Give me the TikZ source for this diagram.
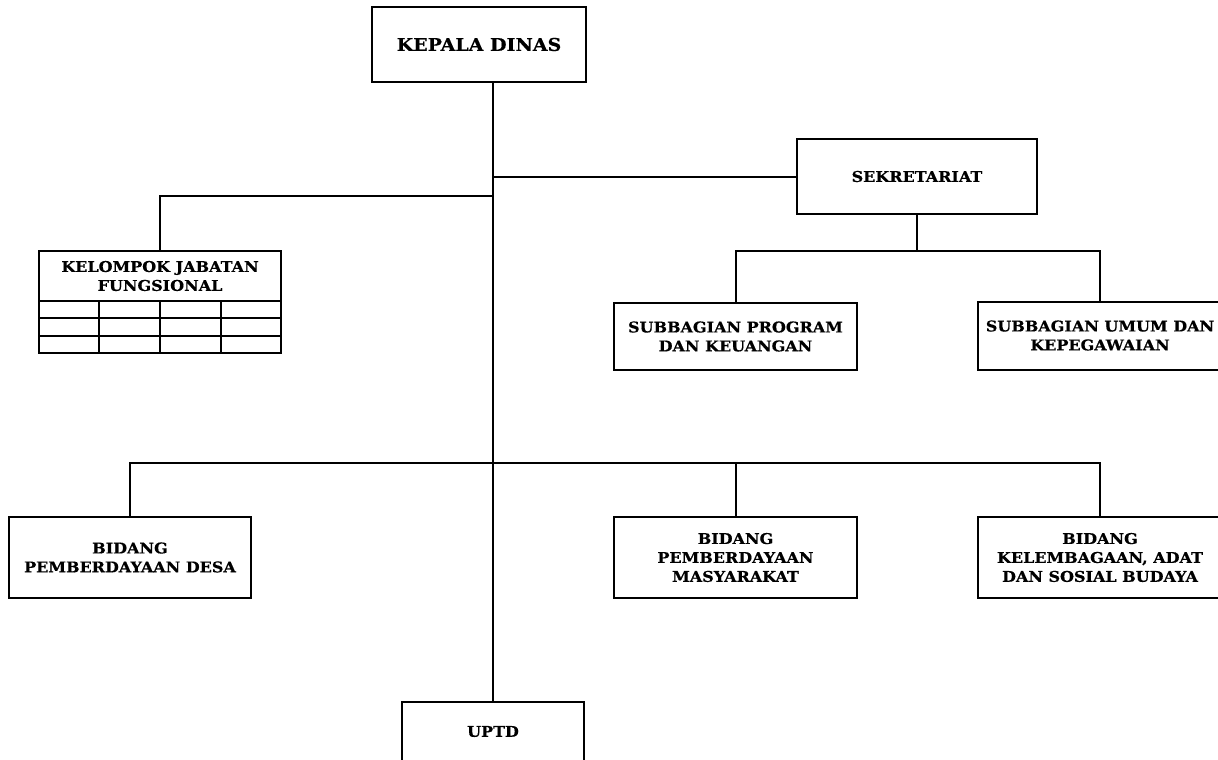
\documentclass[tikz,border=0pt]{standalone}
\usepackage{fontspec}
\setmainfont{DejaVu Serif}[FakeStretch=1.08, BoldFeatures={FakeBold=0.5}]
\begin{document}
\begin{tikzpicture}[x=0.75pt,y=-0.75pt,
  line width=1.5pt,
  unit/.style={draw, rectangle, inner sep=0pt, outer sep=0pt, align=center,
    font=\bfseries\fontsize{11.1}{14.2}\selectfont},
  headbox/.style={unit, font=\bfseries\fontsize{13.2}{15}\selectfont},
  link/.style={line width=1.5pt}]
\useasboundingbox (0,0) rectangle (1218,760);
\begin{scope}
\clip (0,0) rectangle (1218,760);
% head of office
\node[headbox, minimum width=214*0.75pt, minimum height=75*0.75pt] (kadis) at (479,44.5) {KEPALA DINAS};
% secretariat and its subunits
\node[unit, minimum width=240*0.75pt, minimum height=75*0.75pt] (sek) at (917,176.5) {SEKRETARIAT};
\node[unit, minimum width=243*0.75pt, minimum height=67*0.75pt] (sp) at (735.5,336.5) {SUBBAGIAN PROGRAM\\DAN KEUANGAN};
\node[unit, minimum width=244*0.75pt, minimum height=68*0.75pt] (su) at (1100,335.5) {SUBBAGIAN UMUM DAN\\KEPEGAWAIAN};
% functional group with its table
\node[unit, minimum width=242*0.75pt, minimum height=50*0.75pt] (kjf) at (160,276) {KELOMPOK JABATAN\\FUNGSIONAL};
\draw (kjf.south west) rectangle ++(242,52);
\draw (kjf.south west) ++(0,17) -- ++(242,0);
\draw (kjf.south west) ++(0,35) -- ++(242,0);
\foreach \cx in {60,121,182} \draw (kjf.south west) ++(\cx,0) -- ++(0,52);
% fields
\node[unit, minimum width=242*0.75pt, minimum height=81*0.75pt] (bd) at (130,557.5) {BIDANG\\PEMBERDAYAAN DESA};
\node[unit, minimum width=243*0.75pt, minimum height=81*0.75pt] (bm) at (735.5,557.5) {BIDANG\\PEMBERDAYAAN\\MASYARAKAT};
\node[unit, minimum width=244*0.75pt, minimum height=81*0.75pt] (bk) at (1100,557.5) {BIDANG\\KELEMBAGAAN, ADAT\\DAN SOSIAL BUDAYA};
% technical unit
\node[unit, minimum width=182*0.75pt, minimum height=59*0.75pt] (uptd) at (493,731.5) {UPTD};
% connectors
\coordinate (kjfbranch) at (493,196);
\coordinate (sekbus) at (917,251);
\coordinate (bidbus) at (493,463);
\draw[link] (kadis.south -| uptd.north) -- (uptd.north);
\draw[link] (sek.west) -- (sek.west -| uptd.north);
\draw[link] (kjfbranch) -| (kjf.north);
\draw[link] (sek.south) -- (sekbus);
\draw[link] (sp.north) |- (sekbus) -| (su.north);
\draw[link] (bd.north) |- (bidbus) -| (bk.north);
\draw[link] (bm.north) -- (bm.north |- bidbus);
\end{scope}
\end{tikzpicture}
\end{document}
